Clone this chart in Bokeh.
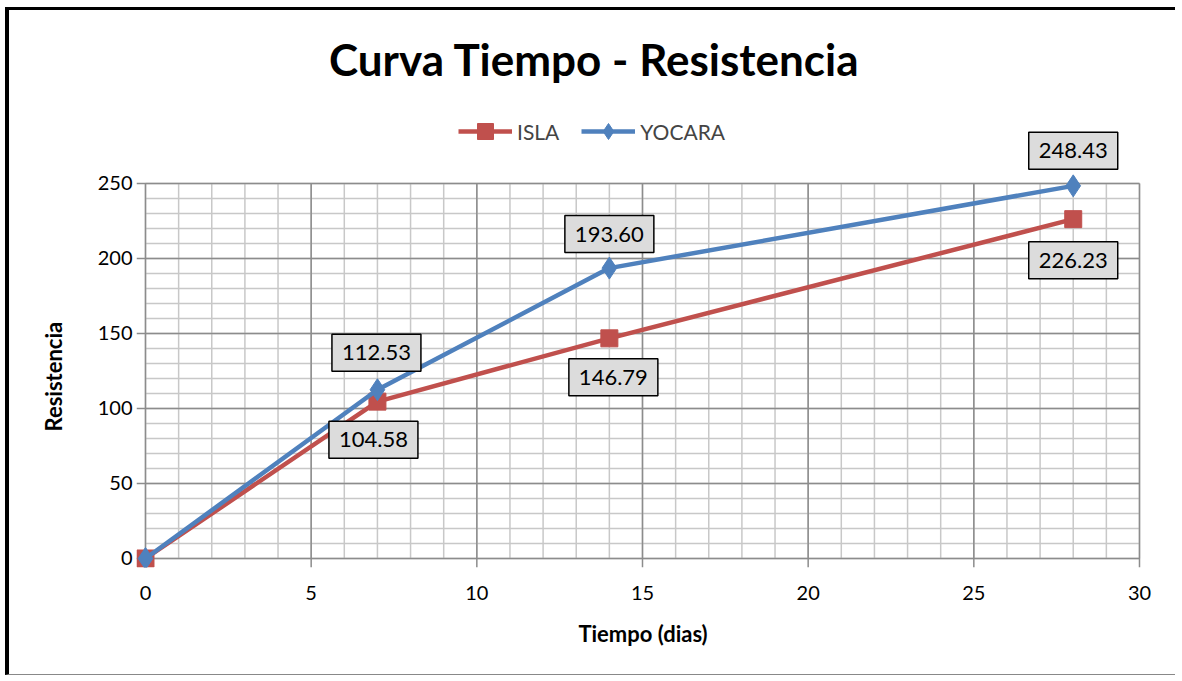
from bokeh.plotting import figure
from bokeh.models import (FixedTicker, Legend, LegendItem, Label, Range1d, Title)
from bokeh.embed import file_html
from bokeh.resources import INLINE

# ---- data ----
dias = [0, 7, 14, 28]
isla = [0, 104.58, 146.79, 226.23]
yocara = [0, 112.53, 193.60, 248.43]
isla_labels = ["", "104.58", "146.79", "226.23"]
yocara_labels = ["", "112.53", "193.60", "248.43"]
x_ticks = [0, 5, 10, 15, 20, 25, 30]
y_ticks = [0, 50, 100, 150, 200, 250]
x_minor = list(range(0, 31, 1))
y_minor = list(range(0, 251, 10))
titulo = "Curva Tiempo - Resistencia"
x_title = "Tiempo (dias)"
y_title = "Resistencia"

RED = "#C0504D"
BLUE = "#4F81BD"
FONT = "Lato"
MAJ = "#8C8C8C"
MIN = "#C8C8C8"

XMIN, XMAX = x_ticks[0], x_ticks[-1]
YMIN, YMAX = y_ticks[0], y_ticks[-1]
X_LO, X_HI = -0.2716, 30.302    # frame edges (a little room round the data)
Y_LO, Y_HI = -6, 359.33

W, H = 1170, 668
p = figure(width=W, height=H, output_backend="svg", toolbar_location=None,
           x_range=Range1d(X_LO, X_HI), y_range=Range1d(Y_LO, Y_HI),
           min_border_left=127, min_border_right=30, min_border_top=9,
           min_border_bottom=111)
p.styles = {"margin-left": "5px", "margin-top": "7px",
            "border-top": "3px solid black", "border-left": "4px solid black",
            "border-bottom": "1px solid #888888"}
p.outline_line_color = None
p.xgrid.visible = False
p.ygrid.visible = False

# manual grid within data area (major lines run out past the axes as tick marks)
p.segment(x0=x_minor, y0=[YMIN] * len(x_minor), x1=x_minor, y1=[YMAX] * len(x_minor),
          line_color=MIN, line_width=1.5)
p.segment(x0=[XMIN] * len(y_minor), y0=y_minor, x1=[XMAX] * len(y_minor), y1=y_minor,
          line_color=MIN, line_width=1.5)
p.segment(x0=x_ticks, y0=[Y_LO] * len(x_ticks), x1=x_ticks, y1=[YMAX] * len(x_ticks),
          line_color=MAJ, line_width=1.5)
p.segment(x0=[X_LO] * len(y_ticks), y0=y_ticks, x1=[XMAX] * len(y_ticks), y1=y_ticks,
          line_color=MAJ, line_width=1.5)

# axes: labels only (lines/ticks come from the grid above)
p.xaxis.ticker = FixedTicker(ticks=x_ticks)
p.yaxis.ticker = FixedTicker(ticks=y_ticks)
for ax in (p.xaxis, p.yaxis):
    ax.axis_line_color = None
    ax.major_tick_line_color = None
    ax.minor_tick_line_color = None
    ax.major_tick_out = 0
    ax.major_tick_in = 0
    ax.major_label_text_font = FONT
    ax.major_label_text_font_size = "20px"
    ax.major_label_text_color = "black"
p.xaxis.axis_label = x_title
p.xaxis.axis_label_text_font = FONT
p.xaxis.axis_label_text_font_size = "22px"
p.xaxis.axis_label_text_font_style = "bold"
p.xaxis.axis_label_text_color = "black"
p.xaxis.major_label_standoff = 18
p.yaxis.major_label_standoff = 4
p.xaxis.axis_label_standoff = 17

p.add_layout(Title(text=y_title, align="left", offset=136, vertical_align="bottom",
                   standoff=56, text_font=FONT, text_font_size="22px",
                   text_font_style="bold", text_color="black"), "left")

# title
p.add_layout(Label(x=13.55, y=332.7, text=titulo, text_align="center",
                   text_baseline="middle", text_font=FONT, text_font_size="44px",
                   text_font_style="bold", text_color="black"))

# series
l1 = p.line(dias, isla, line_color=RED, line_width=4.5)
s1 = p.scatter(dias, isla, marker="square", size=17, fill_color=RED, line_color=RED)
l2 = p.line(dias, yocara, line_color=BLUE, line_width=4.5)
s2 = p.scatter(dias, yocara, marker="diamond", size=22, fill_color=BLUE, line_color=BLUE)

legend = Legend(items=[LegendItem(label="ISLA", renderers=[l1, s1]),
                       LegendItem(label="YOCARA", renderers=[l2, s2])],
                orientation="horizontal", location=(322, 416),
                label_text_font=FONT, label_text_font_size="21px",
                background_fill_alpha=0, border_line_color=None,
                glyph_width=54, glyph_height=40, spacing=22, padding=2,
                label_standoff=5, margin=0)
p.add_layout(legend, "center")

# data labels
def add_labels(xs, ys, texts, offs):
    for xv, yv, t, (dx, dy) in zip(xs, ys, texts, offs):
        if not t:
            continue
        p.add_layout(Label(x=xv, y=yv, x_offset=dx + 3, y_offset=dy - 3, text=t,
                           text_align="center", text_baseline="middle",
                           text_font=FONT, text_font_size="22px", text_color=None,
                           text_alpha=0, background_fill_color="#8A8A8A",
                           background_fill_alpha=0.55, padding=(10, 11)))
        p.add_layout(Label(x=xv, y=yv, x_offset=dx, y_offset=dy, text=t,
                           text_align="center", text_baseline="middle",
                           text_font=FONT, text_font_size="22px", text_color="black",
                           background_fill_color="#DCDCDC", border_line_color="black",
                           border_line_width=1.5, padding=(10, 11)))

add_labels(dias, isla, isla_labels, [(0, 0), (-4, -38), (4, -39), (0, -41)])
add_labels(dias, yocara, yocara_labels, [(0, 0), (-1, 37), (0, 34), (0, 35)])

open("out.html", "w").write(file_html(p, INLINE))
